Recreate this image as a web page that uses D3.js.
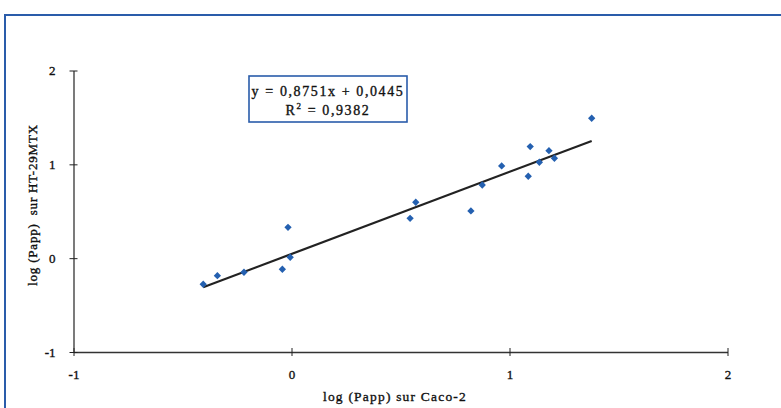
<!DOCTYPE html>
<html>
<head>
<meta charset="utf-8">
<script src="https://cdn.jsdelivr.net/npm/d3@7"></script>
<style>
  html, body { margin: 0; padding: 0; background: #fff; }
  svg { display: block; }
  text { font-family: "Liberation Serif", "DejaVu Serif", serif; fill: #111; stroke: #111; stroke-width: 0.35px; }
</style>
</head>
<body>
<svg id="chart" width="781" height="408"></svg>
<script>
// log(Papp) measured on Caco-2 (x) and on HT-29MTX (y)
const caco2 = [-0.405, -0.340, -0.218, -0.042, -0.016, -0.006, 0.544, 0.570, 0.823, 0.875,
               0.964, 1.086, 1.095, 1.137, 1.181, 1.206, 1.377];
const ht29 = [-0.278, -0.187, -0.150, -0.118, 0.329, 0.010, 0.425, 0.596, 0.503, 0.780,
              0.983, 0.873, 1.189, 1.022, 1.146, 1.065, 1.491];
const xTicks = [-1, 0, 1, 2];
const yTicks = [-1, 0, 1, 2];
// linear fit
const slope = 0.8751, intercept = 0.0445, r2 = "0,9382";

const svg = d3.select("#chart");

// outer frame
svg.append("rect")
  .attr("x", 5).attr("y", 15).attr("width", 800).attr("height", 420)
  .attr("fill", "none").attr("stroke", "#2a5caa").attr("stroke-width", 2);

const x = d3.scaleLinear().domain([-1, 2]).range([73.5, 727.5]);
const y = d3.scaleLinear().domain([-1, 2]).range([352, 70.5]);

// x axis (at y = -1)
const xAxis = d3.axisBottom(x).tickValues(xTicks).tickFormat(d3.format("d"))
  .tickSizeInner(4).tickSizeOuter(0).tickPadding(14);
const gx = svg.append("g").attr("transform", `translate(0,${y(-1)})`).call(xAxis);
gx.selectAll(".tick line").attr("y1", -4).attr("y2", 4).attr("stroke", "#222");
gx.select(".domain").attr("stroke", "#333").attr("stroke-width", 1.3);
gx.selectAll(".tick text").style("font-size", "13px").attr("fill", "#111")
  .text(d => d < 0 ? "-" + Math.abs(d) : d);

// y axis (at x = -1)
const yAxis = d3.axisLeft(y).tickValues(yTicks).tickFormat(d3.format("d"))
  .tickSizeInner(4).tickSizeOuter(0).tickPadding(14);
const gy = svg.append("g").attr("transform", `translate(${x(-1)},0)`).call(yAxis);
gy.selectAll(".tick line").attr("x1", -4).attr("x2", 4).attr("stroke", "#222");
gy.select(".domain").attr("stroke", "#333").attr("stroke-width", 1.3);
gy.selectAll(".tick text").style("font-size", "13px").attr("fill", "#111")
  .text(d => d < 0 ? "-" + Math.abs(d) : d);

// regression line over the data range
const xmin = d3.min(caco2), xmax = d3.max(caco2);
svg.append("line")
  .attr("x1", x(xmin)).attr("y1", y(slope * xmin + intercept))
  .attr("x2", x(xmax)).attr("y2", y(slope * xmax + intercept))
  .attr("stroke", "#222").attr("stroke-width", 2.2);

// points as diamonds
const pts = caco2.map((v, i) => [v, ht29[i]]);
svg.append("g").selectAll("path").data(pts).join("path")
  .attr("d", d3.symbol().type(d3.symbolDiamond2).size(34))
  .attr("transform", d => `translate(${x(d[0])},${y(d[1])})`)
  .attr("fill", "#2460b0");

// equation box
const box = svg.append("g");
box.append("rect").attr("x", 249).attr("y", 76).attr("width", 158).attr("height", 46)
  .attr("fill", "#fff").attr("stroke", "#2a5caa").attr("stroke-width", 1.6);
box.append("text").attr("x", 328).attr("y", 95.5).attr("text-anchor", "middle")
  .style("font-size", "14px").style("letter-spacing", "1.6px")
  .text(`y = ${String(slope).replace(".", ",")}x + ${String(intercept).replace(".", ",")}`);
const t2 = box.append("text").attr("x", 328).attr("y", 115).attr("text-anchor", "middle")
  .style("font-size", "14px").style("letter-spacing", "1.6px");
t2.append("tspan").text("R");
t2.append("tspan").attr("dy", -6).style("font-size", "9px").text("2");
t2.append("tspan").attr("dy", 6).text(" = " + r2);

// axis titles
svg.append("text").attr("x", 395).attr("y", 401).attr("text-anchor", "middle")
  .style("font-size", "13.5px").style("letter-spacing", "1.2px")
  .text("log (Papp) sur Caco-2");
svg.append("text").attr("transform", "translate(37,205) rotate(-90)")
  .attr("text-anchor", "middle").style("font-size", "13px").style("letter-spacing", "0.8px")
  .style("white-space", "pre").attr("xml:space", "preserve")
  .text("log (Papp)  sur HT-29MTX");
</script>
</body>
</html>
